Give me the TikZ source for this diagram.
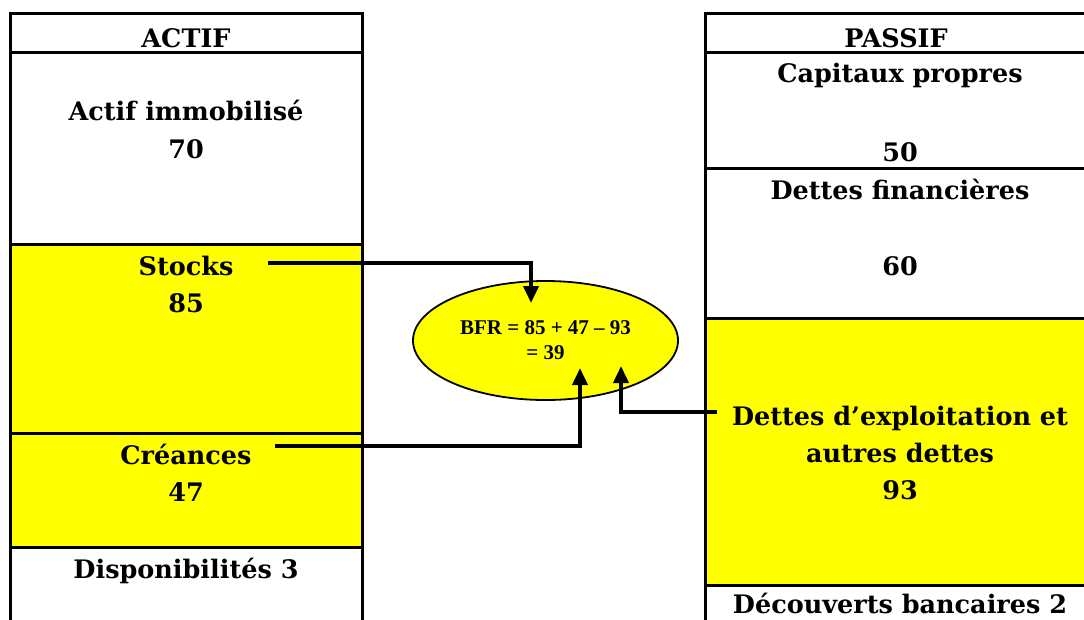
\documentclass[tikz,border=0pt]{standalone}
\usepackage{fontspec}
\newfontfamily\tnr{Liberation Serif}
\newfontfamily\dvs{DejaVu Serif}
\usetikzlibrary{arrows.meta,shapes.geometric}
\definecolor{yel}{RGB}{255,255,0}
\begin{document}
\begin{tikzpicture}[x=1pt,y=-1pt,
  lab/.style={font=\dvs\bfseries\fontsize{25.5}{37}\selectfont, anchor=base, inner sep=0pt},
  rule/.style={line width=3pt},
  arr/.style={line width=3.8pt, -{Triangle[width=15pt,length=17pt]}},
  bfrbox/.style={ellipse, draw, line width=1.8pt, fill=yel, minimum width=265pt, minimum height=119pt, inner sep=0pt, align=center,
    font=\tnr\bfseries\fontsize{21}{25}\selectfont}]
\useasboundingbox (0,0) rectangle (1084,619);
% yellow areas
\fill[yel] (10,244) rectangle (362,547);
\fill[yel] (705,318) rectangle (1095,585);
% ACTIF column
\draw[rule] (10,630) -- (10,13) -- (362,13) -- (362,630);
\draw[rule] (10,52) -- (362,52);
\draw[rule] (10,244) -- (362,244);
\draw[rule] (10,433) -- (362,433);
\draw[rule] (10,547) -- (362,547);
% PASSIF column
\draw[rule] (705,630) -- (705,13) -- (1095,13);
\draw[rule] (705,52) -- (1095,52);
\draw[rule] (705,168) -- (1095,168);
\draw[rule] (705,318) -- (1095,318);
\draw[rule] (705,585) -- (1095,585);
% left texts
\node[lab] (actif) at (186,47) {ACTIF};
\node[lab] (immo) at (186,120) {Actif immobilisé};
\node[lab] (immov) at (186,158) {70};
\node[lab] (stocks) at (186,275) {Stocks};
\node[lab] (stocksv) at (186,312) {85};
\node[lab] (creances) at (186,464) {Créances};
\node[lab] (creancesv) at (186,501) {47};
\node[lab] (dispo) at (186,578) {Disponibilités 3};
% right texts
\node[lab] (passif) at (896,47) {PASSIF};
\node[lab] (cap) at (900,82) {Capitaux propres};
\node[lab] (capv) at (900,161) {50};
\node[lab] (dfin) at (900,199) {Dettes financières};
\node[lab] (dfinv) at (900,275) {60};
\node[lab] (dexp) at (900,425) {Dettes d’exploitation et};
\node[lab] (dexp2) at (900,462) {autres dettes};
\node[lab] (dexpv) at (900,499) {93};
\node[lab] (decouv) at (900,613) {Découverts bancaires 2};
% ellipse
\node[bfrbox] (bfr) at (545.5,340.5) {BFR = 85 + 47 – 93\\= 39};
% connector coordinates
\coordinate (s1) at (268,263);
\coordinate (s2) at (531,303);
\coordinate (c1) at (275,446);
\coordinate (c2) at (580,368);
\coordinate (d1) at (717,412);
\coordinate (d2) at (621,366);
\draw[arr] (s1) -| (s2);
\draw[arr] (c1) -| (c2);
\draw[arr] (d1) -| (d2);
\end{tikzpicture}
\end{document}
